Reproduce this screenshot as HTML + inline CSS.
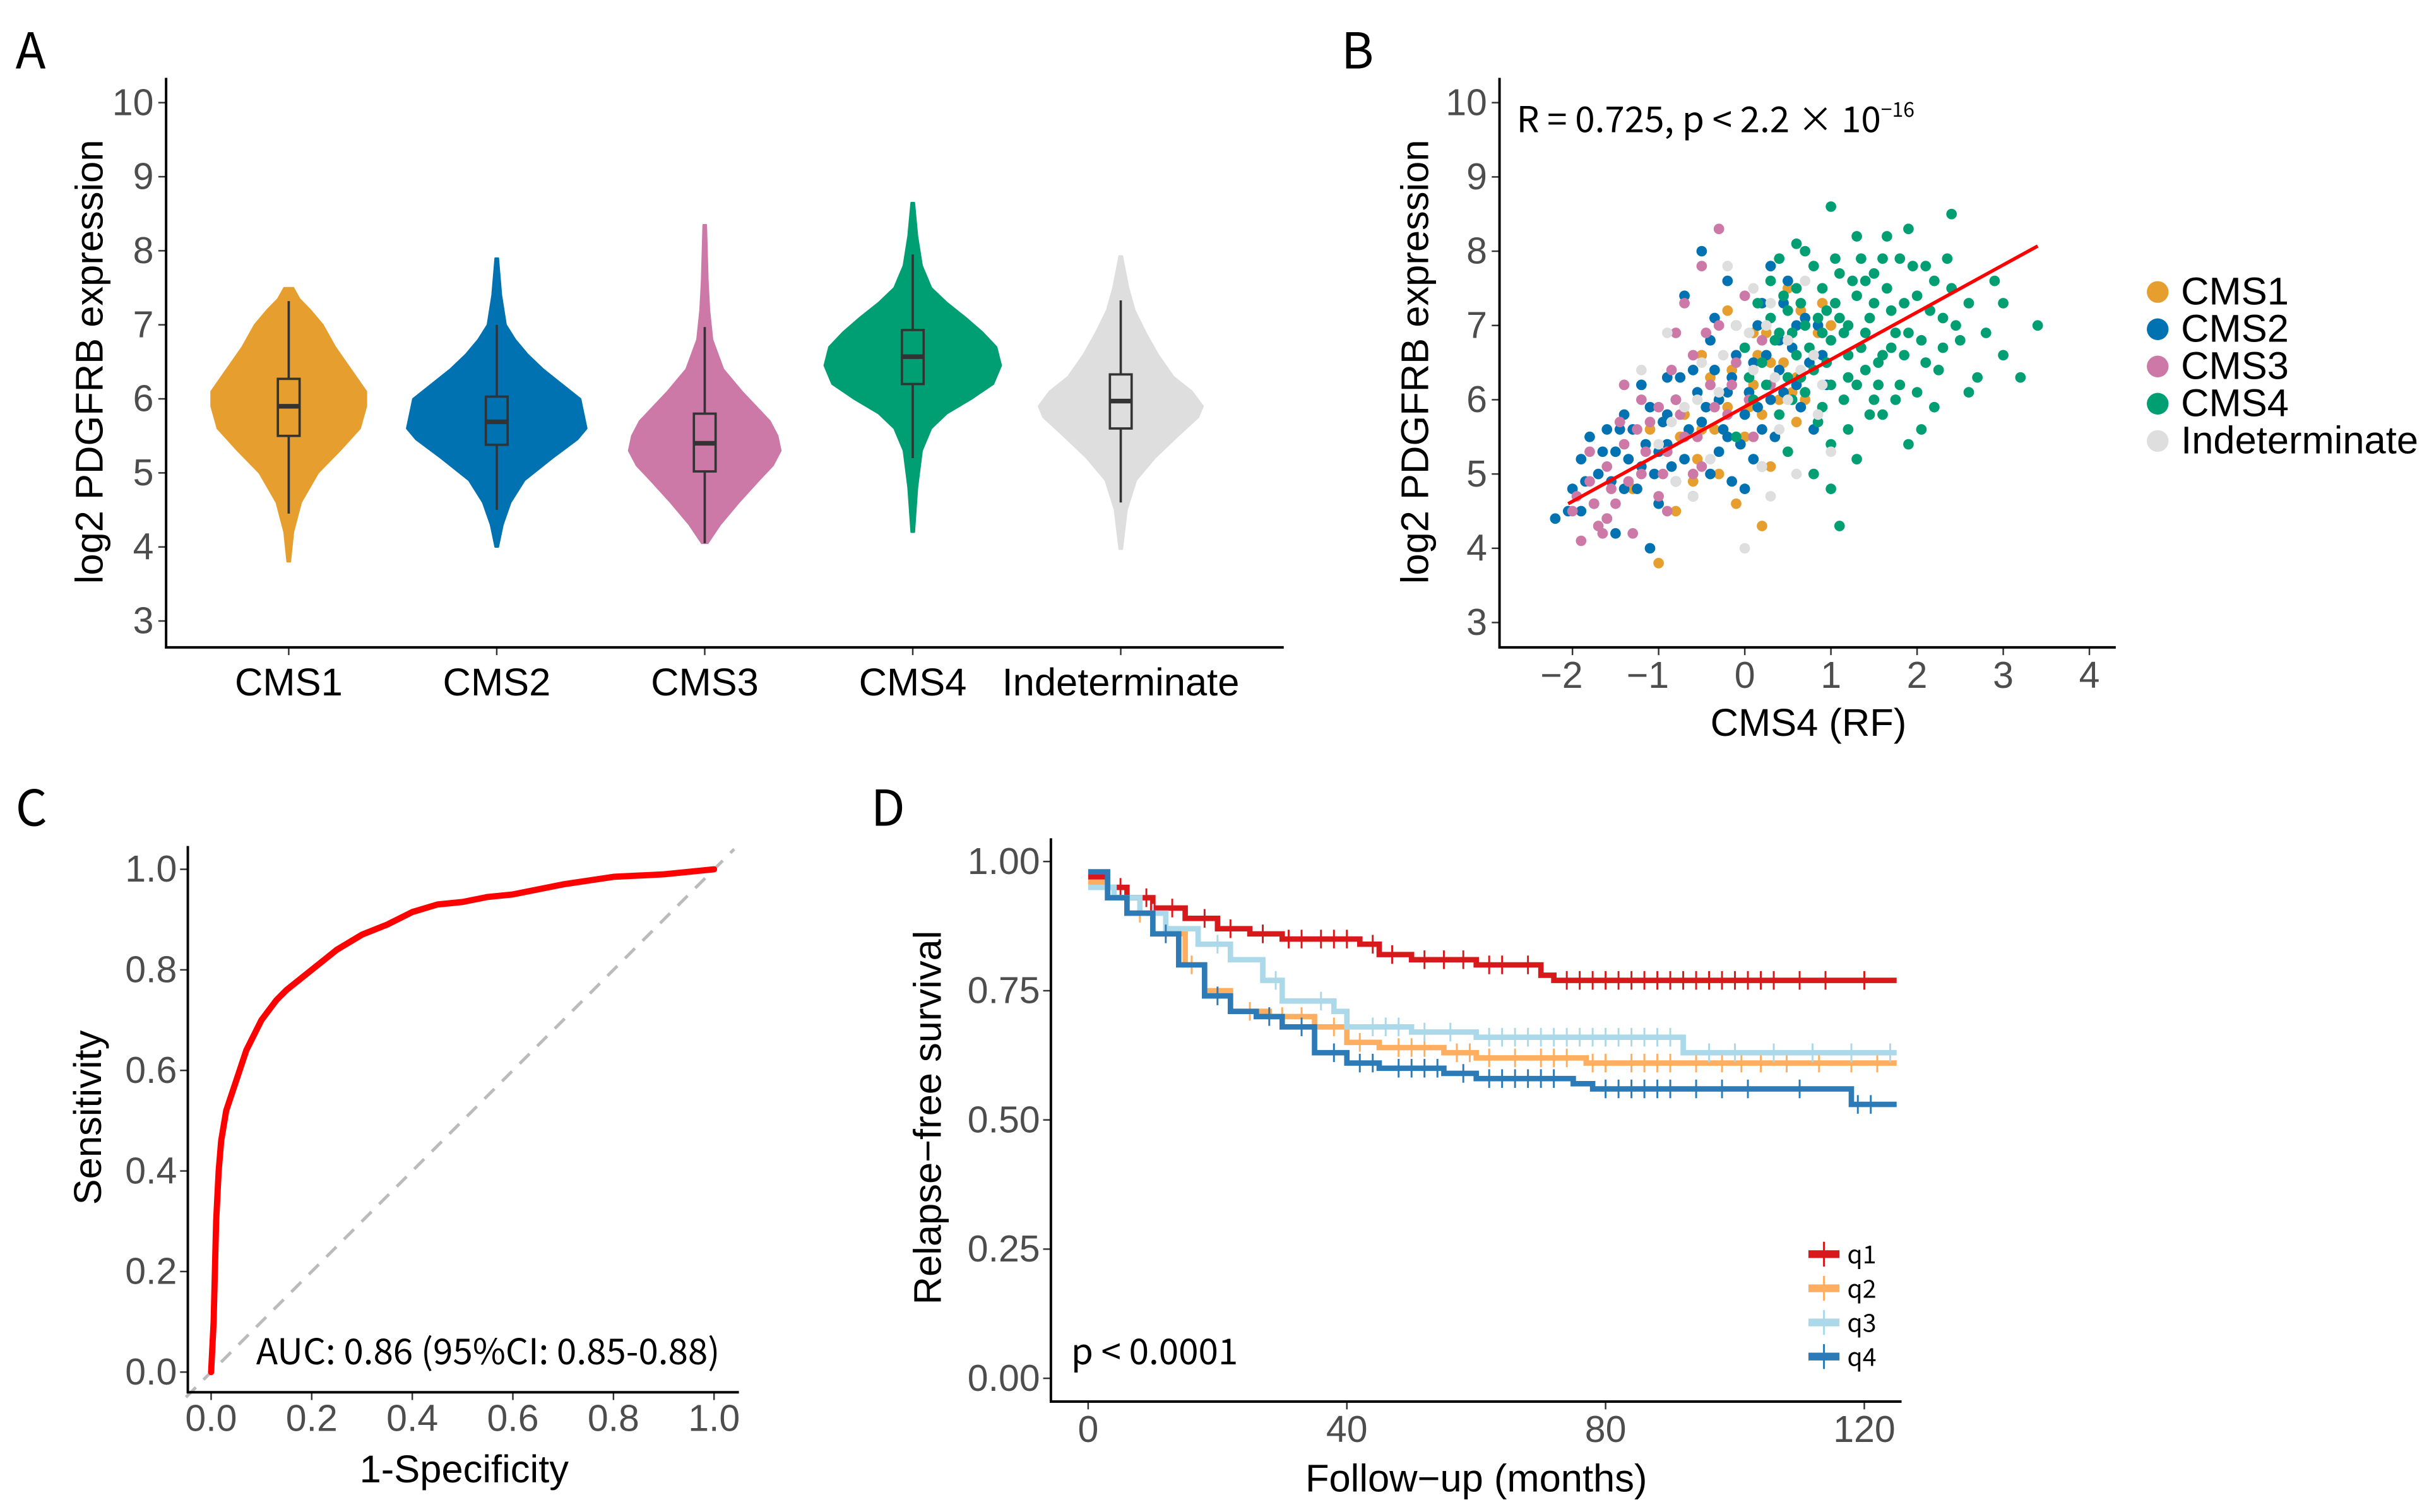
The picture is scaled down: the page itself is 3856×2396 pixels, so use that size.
<!DOCTYPE html>
<html><head><meta charset="utf-8"><title>PDGFRB figure</title>
<style>
html,body{margin:0;padding:0;background:#fff;}
svg{display:block;}
.tick{font-family:"Liberation Sans",sans-serif;font-size:24px;fill:#4d4d4d;}
.axt{font-family:"Liberation Sans",sans-serif;font-size:25px;fill:#000;}
.noto{font-family:"Noto Sans CJK SC","Liberation Sans",sans-serif;fill:#000;}
</style></head>
<body>
<svg id="fig" width="3856" height="2396" viewBox="0 0 1568 974" xmlns="http://www.w3.org/2000/svg">
<rect width="1568" height="974" fill="#fff"/>
<text class="noto" x="10" y="44" font-size="32">A</text>
<text class="noto" x="864" y="44" font-size="32">B</text>
<text class="noto" x="10" y="532" font-size="32">C</text>
<text class="noto" x="561" y="532" font-size="32">D</text>
<g id="pa"></g>
<g id="pb"></g>
<g id="pc"></g>
<g id="pd"></g>
</svg>
<script>
// ---------- Panel A data ----------
const violinCats = ["CMS1","CMS2","CMS3","CMS4","Indeterminate"];
const violinColors = ["#E69F2E","#0072B2","#CC79A7","#009E73","#DEDEDE"];
const violinProfiles = [
 [[3.8,1],[4.2,3],[4.6,8],[5.0,19],[5.3,33],[5.6,46],[5.9,50],[6.1,50],[6.4,40],[6.7,30],[7.0,22],[7.2,14],[7.35,7],[7.5,3]],
 [[4.0,1],[4.3,4],[4.6,9],[4.9,18],[5.2,36],[5.45,52],[5.6,58],[5.8,56],[6.0,54],[6.2,42],[6.4,30],[6.6,20],[6.8,12],[7.0,6],[7.4,3],[7.9,1]],
 [[4.05,2],[4.3,10],[4.6,22],[4.9,35],[5.1,44],[5.3,49],[5.5,47],[5.7,42],[5.9,33],[6.1,24],[6.4,12],[6.8,5],[7.2,3],[7.6,2],[8.35,1]],
 [[4.2,1],[4.8,3],[5.3,6],[5.6,12],[5.8,22],[6.0,38],[6.2,52],[6.45,57],[6.7,54],[6.9,45],[7.1,34],[7.3,22],[7.5,12],[7.8,6],[8.2,3],[8.65,1]],
 [[3.97,1],[4.5,4],[4.9,10],[5.2,22],[5.5,37],[5.75,50],[5.9,53],[6.1,46],[6.3,34],[6.6,24],[6.9,16],[7.2,9],[7.5,5],[7.93,1]]
];
const boxQ1 = [5.5,5.38,5.02,6.2,5.6];
const boxMed = [5.9,5.69,5.4,6.57,5.97];
const boxQ3 = [6.27,6.03,5.8,6.93,6.33];
const whiskLo = [4.45,4.5,4.05,5.2,4.6];
const whiskHi = [7.32,7.0,6.97,7.95,7.33];
const exprTicks = [3,4,5,6,7,8,9,10];

// ---------- Panel B data ----------
const scatterGroups = ["CMS1","CMS2","CMS3","CMS4","Indeterminate"];
const scatterColors = ["#E69F2E","#0072B2","#CC79A7","#009E73","#DEDEDE"];
const ptsCMS1 = [[-0.9,5.3],[-0.5,5.6],[-0.2,5.9],[0.1,6.2],[0.3,6.5],[0.5,6.8],[0.7,7.0],[0.4,6.0],[-0.3,5.0],[0.0,5.5],[0.2,5.8],[0.6,6.3],[-0.6,4.9],[-0.1,4.6],[0.8,6.6],[0.9,7.3],[0.5,7.5],[-0.4,6.3],[-1.3,4.8],[-1.1,5.6],[0.3,5.1],[0.6,5.7],[-0.7,5.8],[0.1,6.9],[-0.2,7.2],[1.0,7.0],[-0.8,4.5],[0.2,4.3],[-0.5,6.6],[0.7,6.0],[-1.0,3.8],
 [-0.35,5.6],[-0.15,6.4],[0.05,5.9],[0.25,6.9],[0.45,6.5],[0.65,7.2],[0.85,6.9],[-0.55,5.2],[-0.75,5.5],[0.35,5.5],[0.15,6.6],[0.55,6.1]];
const ptsCMS2 = [[-2.2,4.4],[-2.0,4.8],[-1.9,4.5],[-1.7,5.0],[-1.6,4.4],[-1.5,5.3],[-1.4,4.8],[-1.3,5.6],[-1.2,5.1],[-1.1,5.9],[-1.0,4.6],[-0.9,5.4],[-0.8,6.0],[-0.7,5.2],[-0.6,6.4],[-0.5,5.7],[-0.4,6.8],[-0.3,5.3],[-0.2,6.1],[-0.1,7.0],[0.0,5.8],[0.1,6.5],[0.2,7.3],[0.3,6.0],[0.4,6.8],[0.5,7.6],[0.6,6.2],[0.7,7.1],[0.8,5.6],[0.9,6.6],[-1.8,5.5],[-1.5,4.2],[-1.1,4.0],[-0.9,6.3],[-0.6,4.7],[-0.4,5.0],[-0.2,7.6],[0.0,4.8],[0.1,5.2],[0.3,7.8],[-0.5,8.0],[-0.7,7.4],[-1.2,6.2],[-0.3,6.0],[0.2,5.6],[-1.4,5.8],[-0.8,4.9],[-0.1,6.6],[0.4,6.4],[-1.9,5.2],[-1.6,5.6],[-1.0,5.3],[0.6,7.0],[-0.9,5.8],[-0.2,5.5],
 [-0.45,5.9],[-0.35,6.4],[-0.25,5.6],[-0.15,6.3],[-0.05,5.4],[0.05,6.1],[0.15,5.9],[0.25,6.6],[0.35,5.5],[0.45,6.1],[0.55,6.7],[-0.55,6.1],[-0.65,5.6],[-0.75,6.3],[-0.85,5.1],[-0.95,5.7],[-1.05,5.0],[-1.15,5.4],[-1.25,4.8],[-1.35,5.2],[-1.45,5.6],[-1.55,4.9],[-1.65,5.3],[-1.75,4.6],[-1.85,4.9],[-2.05,4.5],[0.65,5.9],[0.75,6.5],[0.85,7.0],[0.95,6.2],[0.45,7.3],[0.15,7.0],[-0.35,7.1],[-0.15,4.9]];
const ptsCMS3 = [[-2.0,4.5],[-1.9,4.1],[-1.8,4.9],[-1.7,4.3],[-1.6,5.1],[-1.5,4.6],[-1.4,5.4],[-1.3,4.2],[-1.2,5.0],[-1.1,5.7],[-1.0,4.7],[-0.9,5.3],[-0.8,6.0],[-0.7,5.5],[-0.6,6.6],[-0.5,5.1],[-0.4,6.2],[-0.3,7.0],[-0.2,5.8],[-0.1,6.5],[0.0,7.4],[0.1,5.5],[0.2,6.8],[-0.5,7.8],[-0.7,7.3],[-0.3,8.3],[-1.2,6.0],[-1.6,4.4],[-1.4,6.2],[-0.9,4.5],[-1.8,5.3],[0.3,6.2],[-0.8,6.9],[-1.0,5.9],[-0.6,5.0],
 [-1.95,4.7],[-1.75,4.6],[-1.55,4.8],[-1.35,4.9],[-1.15,5.3],[-0.95,5.0],[-0.75,5.8],[-0.55,5.5],[-0.35,5.9],[-0.15,6.2],[-1.65,4.2],[-1.45,5.7],[-1.25,5.6],[-0.85,6.4],[-0.45,6.9],[0.05,6.0]];
const ptsCMS4 = [[0.2,6.5],[0.4,6.9],[0.5,7.2],[0.6,6.6],[0.7,7.0],[0.8,6.4],[0.9,7.5],[1.0,6.8],[1.1,7.1],[1.2,6.3],[1.3,7.4],[1.4,6.9],[1.5,7.7],[1.6,6.6],[1.7,7.2],[1.8,7.9],[1.9,6.9],[2.0,7.4],[2.1,6.5],[2.2,7.6],[2.3,7.1],[2.4,8.5],[2.5,6.8],[2.6,7.3],[2.8,6.9],[3.0,6.6],[3.2,6.3],[3.4,7.0],[1.0,8.6],[0.6,8.1],[1.3,8.2],[1.9,8.3],[0.3,7.6],[0.9,5.9],[1.2,5.6],[1.5,6.0],[1.8,6.2],[0.5,5.3],[0.8,5.0],[1.0,4.8],[1.1,4.3],[0.4,5.8],[0.7,6.1],[1.4,6.4],[1.6,7.9],[2.0,6.1],[2.2,5.9],[0.1,6.0],[0.0,6.7],[0.3,7.1],[1.1,7.7],[1.7,6.7],[2.4,7.5],[0.6,7.5],[1.3,5.2],[0.9,6.9],[1.5,7.3],[1.2,7.0],[0.8,7.8],[2.1,7.8],[2.7,6.3],[3.0,7.3],[-0.1,5.5],[0.2,5.1],[1.9,5.4],[1.6,5.8],[0.5,6.3],[1.0,6.2],[2.3,6.7],[1.4,7.6],
 [0.35,6.8],[0.45,7.4],[0.55,6.9],[0.65,7.3],[0.75,6.7],[0.85,7.1],[0.95,6.5],[1.05,7.3],[1.15,6.9],[1.25,7.6],[1.35,6.7],[1.45,7.1],[1.55,6.5],[1.65,7.5],[1.75,6.9],[1.85,7.3],[1.95,7.8],[2.05,6.8],[2.15,7.2],[2.25,6.4],[2.35,7.9],[2.45,7.0],[0.25,6.2],[0.55,6.0],[0.85,5.7],[1.15,6.0],[1.45,5.8],[1.75,6.0],[2.05,5.6],[0.4,7.9],[0.7,8.0],[1.05,7.9],[1.35,7.9],[1.65,8.2],[1.2,6.6],[0.95,7.2],[0.65,6.3],[1.55,6.2],[1.85,6.6],[2.6,6.1],[2.9,7.6],[0.15,7.3],[0.05,6.3],[1.0,5.4],[1.3,6.2]];
const ptsIndet = [[-1.0,5.4],[-0.7,5.9],[-0.5,6.5],[-0.3,6.1],[-0.1,7.0],[0.1,6.4],[0.3,7.3],[0.5,6.8],[0.7,7.6],[0.9,6.2],[-0.8,4.9],[-0.4,5.2],[0.0,4.0],[0.2,5.1],[0.4,5.6],[0.6,5.0],[0.8,6.6],[-0.6,4.7],[-0.2,7.8],[0.1,7.5],[1.0,5.3],[-1.2,6.4],[0.3,4.7],[0.5,6.0],[-0.9,6.9],
 [-0.25,6.6],[0.05,6.9],[0.35,6.3],[-0.55,6.0],[0.65,6.4],[0.25,7.0],[-0.85,5.7],[0.85,5.8]];
const scatterPoints = [ptsCMS1,ptsCMS2,ptsCMS3,ptsCMS4,ptsIndet];
const fitX = [-2.05,3.4];
const fitY = [4.6,8.07];
const rfTicks = [-2,-1,0,1,2,3,4];

// ---------- Panel C data ----------
const rocFpr = [0,0.005,0.01,0.015,0.02,0.03,0.05,0.07,0.1,0.13,0.15,0.2,0.25,0.3,0.35,0.4,0.45,0.5,0.55,0.6,0.7,0.8,0.9,1.0];
const rocTpr = [0,0.1,0.3,0.4,0.46,0.52,0.58,0.64,0.70,0.74,0.76,0.80,0.84,0.87,0.89,0.915,0.93,0.935,0.945,0.95,0.97,0.985,0.99,1.0];
const rocTicks = [0,0.2,0.4,0.6,0.8,1.0];

// ---------- Panel D data ----------
const kmGroups = ["q1","q2","q3","q4"];
const kmColors = ["#D7191C","#FDAE61","#ABD9E9","#2C7BB6"];
const kmTimes = [
 [0,3,6,10,15,20,25,30,42,45,50,60,70,72,125],
 [0,3,6,10,15,18,22,28,35,40,45,55,60,77,125],
 [0,4,8,12,17,22,27,30,38,40,50,60,92,125],
 [0,3,6,10,14,18,22,26,30,35,40,45,55,60,75,78,118,125]
];
const kmSurv = [
 [0.97,0.95,0.93,0.91,0.89,0.87,0.86,0.85,0.84,0.82,0.81,0.80,0.78,0.77,0.77],
 [0.96,0.93,0.90,0.86,0.80,0.75,0.71,0.70,0.68,0.65,0.64,0.63,0.62,0.61,0.61],
 [0.95,0.93,0.90,0.87,0.84,0.81,0.77,0.73,0.71,0.68,0.67,0.66,0.63,0.63],
 [0.98,0.93,0.90,0.86,0.80,0.74,0.71,0.70,0.68,0.63,0.61,0.60,0.59,0.58,0.57,0.56,0.53,0.53]
];
const kmCensor = [
 [5,9,13,18,22,27,31,33,36,38,40,44,47,52,55,58,62,64,68,74,76,78,80,82,84,86,88,90,92,94,96,98,100,102,104,106,110,114,120],
 [8,16,25,30,33,38,42,48,50,52,57,59,62,66,70,72,74,78,80,84,86,88,90,94,98,101,104,108,113,118,122],
 [10,20,29,36,44,46,48,52,56,62,64,66,68,70,72,74,76,78,80,82,84,86,88,90,96,100,106,112,118,124],
 [12,20,28,33,38,42,44,48,50,52,54,58,62,64,66,68,70,72,80,82,84,86,88,90,94,98,102,110,119,121]
];
const survTicks = [0,0.25,0.5,0.75,1.0];
const monthTicks = [0,40,80,120];

const NS = "http://www.w3.org/2000/svg";
function mk(parent, tag, attrs, text){
  const e = document.createElementNS(NS, tag);
  for (const k in attrs) e.setAttribute(k, attrs[k]);
  if (text !== undefined) e.textContent = text;
  parent.appendChild(e);
  return e;
}

// ================= Panel A =================
(function(){
  const g = document.getElementById('pa');
  const yA = v => 400 - (v - 3) * (334/7);
  const xA = i => 186 + i * 134;
  violinCats.forEach((c, i) => {
    const prof = violinProfiles[i];
    const cx = xA(i);
    let d = "M" + cx + "," + yA(prof[0][0]);
    prof.forEach(p => { d += " L" + (cx + p[1]) + "," + yA(p[0]); });
    for (let k = prof.length - 1; k >= 0; k--) d += " L" + (cx - prof[k][1]) + "," + yA(prof[k][0]);
    d += "Z";
    const v = mk(g, 'path', {d: d, fill: violinColors[i], stroke: violinColors[i], 'stroke-width': 1, 'stroke-linejoin': 'round'});
    
    
    const w = mk(g, 'line', {x1: cx, x2: cx, y1: yA(whiskLo[i]), y2: yA(whiskHi[i]), stroke: '#333', 'stroke-width': 1.5});
    
    
    const b = mk(g, 'rect', {x: cx - 7, y: yA(boxQ3[i]), width: 14, height: yA(boxQ1[i]) - yA(boxQ3[i]), fill: violinColors[i], stroke: '#333', 'stroke-width': 1.5});
    
    
    const m = mk(g, 'line', {x1: cx - 7, x2: cx + 7, y1: yA(boxMed[i]), y2: yA(boxMed[i]), stroke: '#333', 'stroke-width': 3});
    
    
    const tk = mk(g, 'line', {x1: cx, x2: cx, y1: 417, y2: 422, stroke: '#333', 'stroke-width': 1});
    
    
    const t = mk(g, 'text', {x: cx, y: 448, 'text-anchor': 'middle', class: 'axt', 'font-size': 24}, c);
    
    
  });
  exprTicks.forEach(v => {
    const tk = mk(g, 'line', {x1: 102, x2: 107, y1: yA(v), y2: yA(v), stroke: '#333', 'stroke-width': 1});
    
    
    const t = mk(g, 'text', {x: 99, y: yA(v) + 8, 'text-anchor': 'end', class: 'tick'}, String(v));
    
    
  });
  const ax = mk(g, 'path', {d: 'M107,50 L107,417 L827,417', fill: 'none', stroke: '#000', 'stroke-width': 1.6});
  
  
  const yl = mk(g, 'text', {x: 0, y: 0, transform: 'translate(66,233) rotate(-90)', 'text-anchor': 'middle', class: 'axt'}, 'log2 PDGFRB expression');
  
  
})();

// ================= Panel B =================
(function(){
  const g = document.getElementById('pb');
  const yB = v => 401 - (v - 3) * (335/7);
  const xB = v => 1124 + v * 55.5;
  scatterPoints.forEach((pts, gi) => {
    pts.forEach(p => {
      const c = mk(g, 'circle', {cx: xB(p[0]), cy: yB(p[1]), r: 3.4, fill: scatterColors[gi]});
      
      
    });
  });
  const fl = mk(g, 'line', {x1: xB(fitX[0]), y1: yB(fitY[0]), x2: xB(fitX[1]), y2: yB(fitY[1]), stroke: '#FF0000', 'stroke-width': 2.2});
  
  
  exprTicks.forEach(v => {
    const tk = mk(g, 'line', {x1: 961, x2: 966, y1: yB(v), y2: yB(v), stroke: '#333', 'stroke-width': 1});
    
    
    const t = mk(g, 'text', {x: 958, y: yB(v) + 8, 'text-anchor': 'end', class: 'tick'}, String(v));
    
    
  });
  rfTicks.forEach(v => {
    const tk = mk(g, 'line', {x1: xB(v), x2: xB(v), y1: 417, y2: 422, stroke: '#333', 'stroke-width': 1});
    
    
    const t = mk(g, 'text', {x: xB(v) - (v < 0 ? 7 : 0), y: 443, 'text-anchor': 'middle', class: 'tick'}, (v < 0 ? '\u2212' + (-v) : String(v)));
    
    
  });
  const ax = mk(g, 'path', {d: 'M966,50 L966,417 L1363,417', fill: 'none', stroke: '#000', 'stroke-width': 1.6});
  
  
  const yl = mk(g, 'text', {x: 0, y: 0, transform: 'translate(920,233) rotate(-90)', 'text-anchor': 'middle', class: 'axt'}, 'log2 PDGFRB expression');
  
  
  const xl = mk(g, 'text', {x: 1165, y: 474, 'text-anchor': 'middle', class: 'axt'}, 'CMS4 (RF)');
  
  
  const an = mk(g, 'text', {x: 977, y: 85, class: 'noto', 'font-size': 23}, 'R = 0.725, p < 2.2 \u00d7 10');
  
  
  const sup = mk(an, 'tspan', {dy: -10, 'font-size': 13}, '\u221216');
  
  
  scatterGroups.forEach((s, i) => {
    const ly = 188 + i * 24;
    const c = mk(g, 'circle', {cx: 1390, cy: ly, r: 7, fill: scatterColors[i]});
    
    
    const t = mk(g, 'text', {x: 1405, y: ly + 8, class: 'axt', 'font-size': 24}, s);
    
    
  });
})();

// ================= Panel C =================
(function(){
  const g = document.getElementById('pc');
  const xC = v => 136 + v * 324;
  const yC = v => 884 - v * 324;
  const dg = mk(g, 'line', {x1: xC(-0.05), y1: yC(-0.05), x2: xC(1.04), y2: yC(1.04), stroke: '#bbb', 'stroke-width': 2, 'stroke-dasharray': '9,7'});
  
  
  let d = '';
  rocFpr.forEach((f, i) => { d += (i ? ' L' : 'M') + xC(f) + ',' + yC(rocTpr[i]); });
  const rc = mk(g, 'path', {d: d, fill: 'none', stroke: '#FF0000', 'stroke-width': 4, 'stroke-linejoin': 'round', 'stroke-linecap': 'round'});
  
  
  rocTicks.forEach(v => {
    const tk = mk(g, 'line', {x1: 116, x2: 121, y1: yC(v), y2: yC(v), stroke: '#333', 'stroke-width': 1});
    
    
    const t = mk(g, 'text', {x: 114, y: yC(v) + 8, 'text-anchor': 'end', class: 'tick'}, v.toFixed(1));
    
    
    const tx = mk(g, 'line', {x1: xC(v), x2: xC(v), y1: 897, y2: 902, stroke: '#333', 'stroke-width': 1});
    
    
    const tt = mk(g, 'text', {x: xC(v), y: 922, 'text-anchor': 'middle', class: 'tick'}, v.toFixed(1));
    
    
  });
  const ax = mk(g, 'path', {d: 'M121,545 L121,897 L476,897', fill: 'none', stroke: '#000', 'stroke-width': 1.6});
  
  
  const yl = mk(g, 'text', {x: 0, y: 0, transform: 'translate(65,720) rotate(-90)', 'text-anchor': 'middle', class: 'axt'}, 'Sensitivity');
  
  
  const xl = mk(g, 'text', {x: 299, y: 955, 'text-anchor': 'middle', class: 'axt'}, '1-Specificity');
  
  
  const an = mk(g, 'text', {x: 165, y: 879, class: 'noto', 'font-size': 23}, 'AUC: 0.86 (95%CI: 0.85-0.88)');
  
  
})();

// ================= Panel D =================
(function(){
  const g = document.getElementById('pd');
  const xD = v => 701 + v * (500/120);
  const yD = v => 888 - v * 333;
  function survAt(gi, t){
    let s = kmSurv[gi][0];
    kmTimes[gi].forEach((tt, k) => { if (tt <= t) s = kmSurv[gi][k]; });
    return s;
  }
  kmGroups.forEach((q, gi) => {
    const ts = kmTimes[gi], ss = kmSurv[gi];
    let d = 'M' + xD(ts[0]) + ',' + yD(ss[0]);
    for (let k = 1; k < ts.length; k++) {
      d += ' L' + xD(ts[k]) + ',' + yD(ss[k-1]) + ' L' + xD(ts[k]) + ',' + yD(ss[k]);
    }
    const p = mk(g, 'path', {d: d, fill: 'none', stroke: kmColors[gi], 'stroke-width': 3.5});
    
    
    kmCensor[gi].forEach(t => {
      const y = yD(survAt(gi, t));
      const c = mk(g, 'line', {x1: xD(t), x2: xD(t), y1: y - 6, y2: y + 6, stroke: kmColors[gi], 'stroke-width': 1.2});
      
      
    });
    const ly = 808 + gi * 22;
    const lk = mk(g, 'line', {x1: 1165, x2: 1185, y1: ly, y2: ly, stroke: kmColors[gi], 'stroke-width': 5});
    
    
    const lv = mk(g, 'line', {x1: 1175, x2: 1175, y1: ly - 8, y2: ly + 8, stroke: kmColors[gi], 'stroke-width': 1.2});
    
    
    const lt = mk(g, 'text', {x: 1190, y: ly + 6, class: 'noto', 'font-size': 16}, q);
    
    
  });
  survTicks.forEach(v => {
    const tk = mk(g, 'line', {x1: 672, x2: 677, y1: yD(v), y2: yD(v), stroke: '#333', 'stroke-width': 1});
    
    
    const t = mk(g, 'text', {x: 670, y: yD(v) + 8, 'text-anchor': 'end', class: 'tick'}, v.toFixed(2));
    
    
  });
  monthTicks.forEach(v => {
    const tk = mk(g, 'line', {x1: xD(v), x2: xD(v), y1: 903, y2: 908, stroke: '#333', 'stroke-width': 1});
    
    
    const t = mk(g, 'text', {x: xD(v), y: 929, 'text-anchor': 'middle', class: 'tick'}, String(v));
    
    
  });
  const ax = mk(g, 'path', {d: 'M677,540 L677,903 L1225,903', fill: 'none', stroke: '#000', 'stroke-width': 1.6});
  
  
  const yl = mk(g, 'text', {x: 0, y: 0, transform: 'translate(606,720) rotate(-90)', 'text-anchor': 'middle', class: 'axt'}, 'Relapse\u2212free survival');
  
  
  const xl = mk(g, 'text', {x: 951, y: 961, 'text-anchor': 'middle', class: 'axt'}, 'Follow\u2212up (months)');
  
  
  const pv = mk(g, 'text', {x: 690, y: 879, class: 'noto', 'font-size': 23}, 'p < 0.0001');
  
  
})();
</script>
</body></html>
